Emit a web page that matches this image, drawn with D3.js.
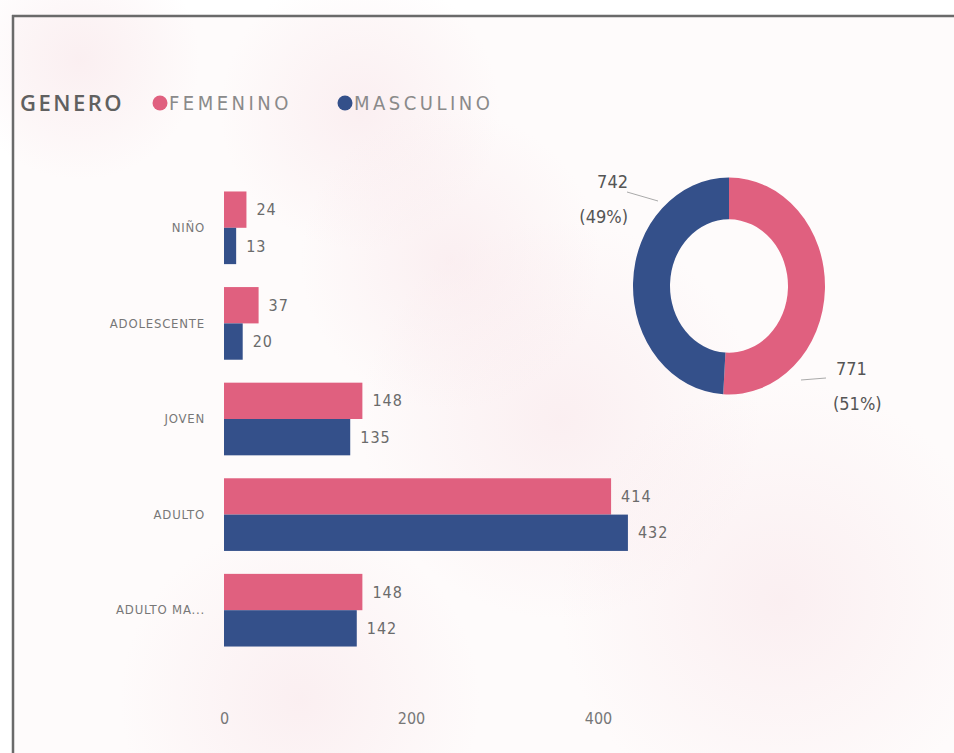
<!DOCTYPE html>
<html>
<head>
<meta charset="utf-8">
<script src="https://cdn.jsdelivr.net/npm/d3@7"></script>
<style>
  html, body { margin: 0; padding: 0; background: #ffffff; }
  svg { display: block; }
</style>
</head>
<body>
<script>
// Age groups and counts by gender
const categories = ["NIÑO", "ADOLESCENTE", "JOVEN", "ADULTO", "ADULTO MA..."];
const femenino = [24, 37, 148, 414, 148];
const masculino = [13, 20, 135, 432, 142];
const genderTotals = [771, 742];          // FEMENINO, MASCULINO
const genderNames = ["FEMENINO", "MASCULINO"];
const xTicks = [0, 200, 400];

const W = 954, H = 753;
const pink = "#e0607f", blue = "#34508a";
const textGray = "#6b6b6b";
const condensed = "'Liberation Sans Narrow', 'DejaVu Sans Condensed', 'Open Sans', sans-serif";

const svg = d3.select("body").append("svg").attr("width", W).attr("height", H);

// Faint tinted backdrop inside the frame
const defs = svg.append("defs");
const rg = defs.append("radialGradient").attr("id", "blot");
rg.append("stop").attr("offset", "0%").attr("stop-color", "#f6dde2").attr("stop-opacity", 0.4);
rg.append("stop").attr("offset", "100%").attr("stop-color", "#f6dde2").attr("stop-opacity", 0);
svg.append("rect").attr("x", 13).attr("y", 16).attr("width", W - 13).attr("height", H - 16).attr("fill", "#fefbfb");
[[80, 60, 120], [360, 110, 140], [560, 420, 200], [450, 260, 150], [780, 600, 220], [300, 700, 180]]
  .forEach(([cx, cy, r]) => svg.append("circle").attr("cx", cx).attr("cy", cy).attr("r", r).attr("fill", "url(#blot)"));

// Frame lines (top and left)
svg.append("line").attr("x1", 12).attr("x2", W).attr("y1", 16).attr("y2", 16).attr("stroke", "#6a6a6a").attr("stroke-width", 2.5);
svg.append("line").attr("x1", 13).attr("x2", 13).attr("y1", 15).attr("y2", H).attr("stroke", "#6a6a6a").attr("stroke-width", 2.5);

// Legend
const legend = svg.append("g").attr("transform", "translate(20,103)");
legend.append("text").attr("x", 0).attr("y", 0).attr("dy", "0.35em")
  .attr("font-family", "'Open Sans', sans-serif").attr("font-size", 22).attr("font-weight", 600)
  .attr("letter-spacing", 2.5).attr("fill", "#606060").text("GENERO");
const legItems = [{ name: genderNames[0], color: pink, x: 160 }, { name: genderNames[1], color: blue, x: 345 }];
legItems.forEach(d => {
  legend.append("circle").attr("cx", d.x - 20).attr("cy", 0).attr("r", 7.5).attr("fill", d.color);
  legend.append("text").attr("x", d.x - 11).attr("y", 0).attr("dy", "0.35em")
    .attr("font-family", condensed).attr("font-size", 20).attr("fill", "#8a8a8a")
    .attr("letter-spacing", 3.5).text(d.name);
});

// Clustered bar chart
const x = d3.scaleLinear().domain([0, 400]).range([224, 598]);
const y = d3.scaleBand().domain(categories).range([180, 658]).paddingInner(0.24).paddingOuter(0.12);
const sub = d3.scaleBand().domain(["F", "M"]).range([0, y.bandwidth()]);

const rows = categories.map((c, i) => ({ c, vals: [{ k: "F", v: femenino[i] }, { k: "M", v: masculino[i] }] }));
const groups = svg.append("g").selectAll("g").data(rows).join("g")
  .attr("transform", d => `translate(0,${y(d.c)})`);

groups.selectAll("rect").data(d => d.vals).join("rect")
  .attr("x", x(0)).attr("y", d => sub(d.k))
  .attr("width", d => x(d.v) - x(0)).attr("height", sub.bandwidth())
  .attr("fill", d => d.k === "F" ? pink : blue);

groups.selectAll("text.val").data(d => d.vals).join("text").attr("class", "val")
  .attr("x", d => x(d.v) + 10).attr("y", d => sub(d.k) + sub.bandwidth() / 2).attr("dy", "0.35em")
  .attr("font-family", condensed).attr("font-size", 16).attr("fill", textGray)
  .attr("letter-spacing", 1).text(d => d.v);

// Category axis labels
const yAxis = d3.axisLeft(y).tickSize(0).tickPadding(0);
const yg = svg.append("g").attr("transform", "translate(205,0)").call(yAxis);
yg.select(".domain").remove();
yg.selectAll("text").attr("font-family", condensed).attr("font-size", 13).attr("fill", "#777")
  .attr("letter-spacing", 0.8);

// Value axis labels
const xAxis = d3.axisBottom(x).tickValues(xTicks).tickSize(0).tickPadding(0);
const xg = svg.append("g").attr("transform", "translate(0,713)").call(xAxis);
xg.select(".domain").remove();
xg.selectAll("text").attr("font-family", condensed).attr("font-size", 16).attr("fill", "#777");

// Donut of totals by gender
const cx = 729, cy = 286;
const pie = d3.pie().sort(null).value(d => d)(genderTotals);
const rOuter = 96, rInner = 59;
const arc = d3.arc().innerRadius(rInner).outerRadius(rOuter);
const donut = svg.append("g").attr("transform", `translate(${cx},${cy}) scale(1,1.13)`);
donut.selectAll("path").data(pie).join("path")
  .attr("d", arc).attr("fill", (d, i) => i === 0 ? pink : blue);

// Donut labels with leader lines
const total = d3.sum(genderTotals);
const donutLabels = [
  { i: 1, line: [[627, 192], [658, 201]], x: 628, y: 182, anchor: "end" },
  { i: 0, line: [[801, 380], [826, 378]], x: 836, y: 369, anchor: "start" }
];
donutLabels.forEach(d => {
  svg.append("path").attr("d", d3.line()(d.line)).attr("stroke", "#aaa").attr("fill", "none").attr("stroke-width", 1);
  const t = svg.append("text").attr("x", d.x).attr("y", d.y).attr("text-anchor", d.anchor)
    .attr("font-family", condensed).attr("font-size", 18).attr("fill", "#555");
  t.append("tspan").attr("x", d.x).attr("dy", "0.35em").text(genderTotals[d.i]);
  t.append("tspan").attr("x", d.x - (d.anchor === "start" ? 3 : 0)).attr("dy", "1.95em")
    .text(`(${Math.round(genderTotals[d.i] / total * 100)}%)`);
});
</script>
</body>
</html>
